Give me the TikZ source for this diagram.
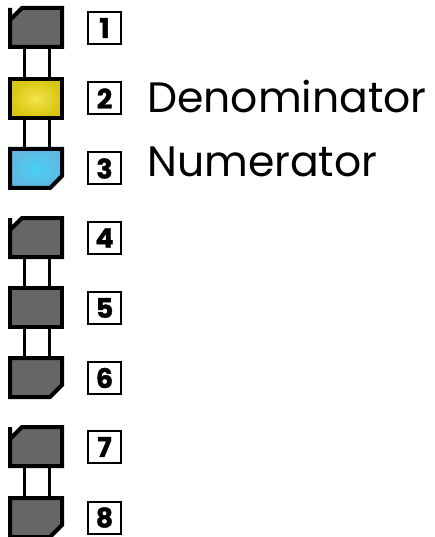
\documentclass[tikz,border=0pt]{standalone}
\usepackage{fontspec}
\setmainfont{Poppins}
\newfontfamily\digitfont[FakeBold=1.2]{Poppins}
\usetikzlibrary{calc}
\definecolor{blockgray}{HTML}{666666}
\definecolor{yelin}{HTML}{F2E44A}
\definecolor{yelout}{HTML}{D8C410}
\definecolor{bluin}{HTML}{48D0F8}
\definecolor{bluout}{HTML}{60B8E0}
\tikzset{
  blk/.style={draw=black, line width=4pt, line join=miter, fill=blockgray},
  link/.style={draw=black, line width=3.5pt},
  numbox/.style={draw=black, line width=2pt, fill=white, minimum width=33pt, minimum height=32pt, inner sep=0pt, font=\digitfont\bfseries\fontsize{27}{27}\selectfont},
  lbl/.style={anchor=base west, inner sep=0pt, font=\fontsize{42.5}{42.5}\selectfont}
}
\newcommand{\blkTL}[3]{% name, center y, style
  \path[blk,#3] (10,{-(#2)+19.5}) -- (10,{-(#2)+7.5}) -- (22,{-(#2)+19.5}) -- (62,{-(#2)+19.5}) -- (62,{-(#2)-19.5}) -- (10,{-(#2)-19.5}) -- cycle;
  \coordinate (#1t) at (0,{-(#2)+19.5}); \coordinate (#1b) at (0,{-(#2)-19.5});}
\newcommand{\blkBR}[3]{%
  \path[blk,#3] (10,{-(#2)+19.5}) -- (62,{-(#2)+19.5}) -- (62,{-(#2)-7.5}) -- (50,{-(#2)-19.5}) -- (10,{-(#2)-19.5}) -- cycle;
  \coordinate (#1t) at (0,{-(#2)+19.5}); \coordinate (#1b) at (0,{-(#2)-19.5});}
\newcommand{\blkR}[3]{%
  \path[blk,#3] (10,{-(#2)+19.5}) rectangle (62,{-(#2)-19.5});
  \coordinate (#1t) at (0,{-(#2)+19.5}); \coordinate (#1b) at (0,{-(#2)-19.5});}
\begin{document}
\begin{tikzpicture}[x=1pt,y=1pt]
\useasboundingbox (0,0) rectangle (435,-537);
% links (drawn first, behind blocks)
\foreach \ya/\yb in {27.5/98.5, 98.5/168.5, 237.5/307.5, 307.5/377.5, 446.5/517.5}{
  \coordinate (la) at (24.5,-\ya); \coordinate (lb) at (24.5,-\yb);
  \coordinate (ra) at (49.5,-\ya); \coordinate (rb) at (49.5,-\yb);
  \draw[link] (la) -- (lb);
  \draw[link] (ra) -- (rb);
}
\blkTL{b1}{27.5}{}
\blkR{b2}{98.5}{inner color=yelin, outer color=yelout}
\blkBR{b3}{168.5}{inner color=bluin, outer color=bluout}
\blkTL{b4}{237.5}{}
\blkR{b5}{307.5}{}
\blkBR{b6}{377.5}{}
\blkTL{b7}{446.5}{}
\blkBR{b8}{517.5}{}
% number boxes
\node[numbox] (n1) at (104.5,-28) {1};
\node[numbox] (n2) at (104.5,-98.5) {2};
\node[numbox] (n3) at (104.5,-168.5) {3};
\node[numbox] (n4) at (104.5,-238) {4};
\node[numbox] (n5) at (104.5,-308) {5};
\node[numbox] (n6) at (104.5,-378) {6};
\node[numbox] (n7) at (104.5,-447) {7};
\node[numbox] (n8) at (104.5,-517.5) {8};
% labels
\node[lbl] (t2) at (147,-113) {Denominator};
\node[lbl] (t3) at (147,-177) {Numerator};
\end{tikzpicture}
\end{document}
